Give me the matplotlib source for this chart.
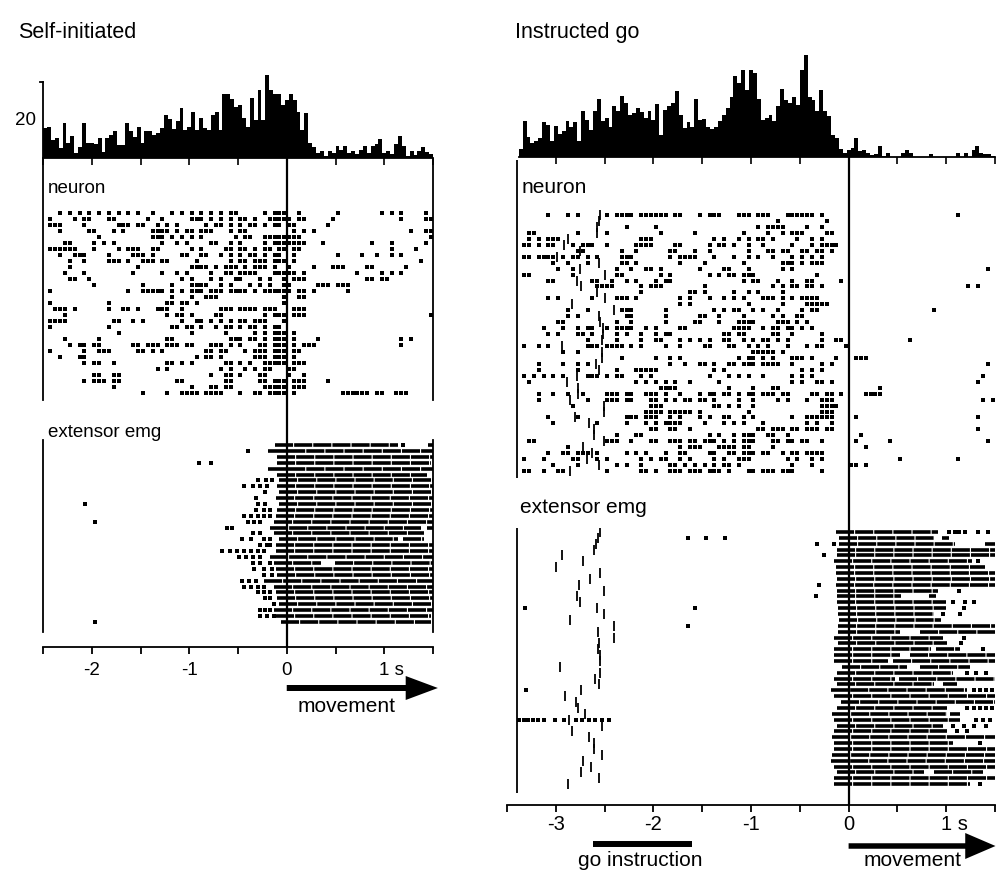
import numpy as np
import matplotlib
matplotlib.use("Agg")
import matplotlib.pyplot as plt
from matplotlib.patches import FancyArrow

plt.rcParams['font.family'] = ['Liberation Sans', 'DejaVu Sans']

W, H = 996, 872          # figure size in px
HBIN = 0.04              # histogram bin width (s)
RBIN = 0.05              # raster bin width (s)

# ---------------- peri-event histograms (spikes/s, 40 ms bins) ----------------
left_hist_start = -2.5
left_hist = [7.9, 8.2, 4.8, 5.3, 2.6, 9.2, 4.0, 5.8, 1.3, 3.0,
             9.2, 4.0, 4.0, 3.7, 5.3, 1.6, 5.3, 6.1, 7.1, 3.4,
             3.4, 9.2, 7.1, 5.5, 8.2, 4.0, 7.1, 7.1, 6.1, 6.6,
             7.9, 11.4, 10.3, 7.7, 9.8, 13.2, 7.4, 8.2, 12.1, 7.4,
             10.6, 7.9, 7.4, 11.4, 12.1, 7.4, 16.9, 16.9, 15.6, 13.5,
             14.0, 10.6, 8.2, 15.8, 10.0, 18.0, 10.0, 21.9, 18.0, 16.9,
             16.9, 14.0, 15.3, 16.9, 15.3, 12.1, 7.4, 11.9, 4.0, 2.9,
             1.3, 1.8, 0.5, 1.8, 1.3, 3.2, 2.1, 3.2, 1.3, 1.8,
             1.1, 2.1, 3.2, 1.3, 3.2, 3.7, 5.0, 1.3, 1.8, 1.1,
             3.7, 5.8, 3.2, 0.5, 1.8, 0.8, 1.8, 2.9, 1.6, 1.1]

right_hist_start = -3.38
right_hist = [2.1, 9.5, 5.3, 3.7, 4.2, 5.0, 9.2, 8.4, 4.2, 8.2,
              6.1, 6.9, 9.5, 7.9, 9.2, 4.2, 12.1, 9.8, 7.1, 12.1,
              15.3, 9.5, 10.3, 7.9, 13.5, 12.1, 16.1, 14.3, 11.1, 11.6,
              12.9, 11.9, 10.3, 12.1, 9.8, 14.0, 5.8, 12.4, 13.5, 14.3,
              17.4, 11.1, 7.7, 9.2, 7.9, 15.3, 9.8, 10.0, 7.9, 7.4,
              7.9, 9.5, 11.1, 12.9, 15.8, 21.4, 19.5, 23.0, 17.7, 23.0,
              22.2, 15.3, 9.8, 10.3, 11.1, 9.5, 13.5, 18.0, 15.0, 14.3,
              15.8, 13.7, 23.0, 26.9, 15.8, 15.0, 12.1, 17.7, 12.1, 10.8,
              5.8, 5.0, 2.1, 1.1, 1.8, 2.4, 5.0, 1.6, 1.8, 1.1,
              0.5, 0.8, 2.9, 0.3, 1.1, 0, 0, 0, 1.1, 1.8,
              1.1, 0, 0, 0, 0, 0.8, 0, 0, 0, 0,
              0, 0, 1.1, 0, 1.1, 0, 1.8, 2.9, 1.1, 0.8,
              0.8, 0.3]

# ---------------- neuron rasters: spike bins (50 ms) per trial ----------------
left_neuron_t0 = -2.5
left_neuron = [
    [3, 5, 7, 9, 11, 13, 15, 17, 19, 22, 26, 28, 30, 32, 34, 36, 38, 39, 45, 47, 48, 49, 52, 60, 69, 71, 73, 78],
    [1, 6, 8, 9, 13, 14, 21, 24, 30, 31, 32, 34, 36, 38, 40, 41, 43, 46, 47, 48, 49, 50, 52, 53, 59, 73, 78, 79],
    [1, 2, 3, 8, 15, 16, 17, 19, 20, 23, 25, 27, 33, 35, 36, 38, 40, 42, 43, 45, 47, 48, 50, 51, 58],
    [3, 9, 10, 14, 16, 22, 23, 24, 25, 27, 29, 30, 32, 33, 34, 38, 40, 41, 51, 53, 55, 75, 78, 79],
    [11, 22, 23, 24, 26, 28, 30, 32, 39, 41, 42, 45, 46, 47, 48, 49, 50, 51, 52, 79],
    [4, 5, 10, 12, 14, 24, 27, 29, 34, 35, 38, 40, 45, 47, 48, 49, 50, 51, 52, 53, 57, 67, 71, 78],
    [1, 2, 3, 4, 5, 6, 10, 15, 17, 18, 19, 22, 23, 30, 32, 37, 38, 40, 41, 43, 45, 46, 48, 49, 51, 52, 71, 76],
    [3, 6, 7, 8, 13, 18, 19, 20, 22, 28, 29, 32, 33, 36, 38, 40, 42, 43, 45, 47, 48, 51, 60, 65, 68, 71, 73],
    [5, 8, 13, 14, 15, 17, 20, 21, 22, 24, 25, 31, 38, 40, 41, 43, 44, 45, 47, 48, 49, 51, 77],
    [5, 19, 30, 31, 32, 33, 35, 37, 38, 39, 41, 43, 44, 45, 47, 50, 55, 59, 60, 61, 66, 67, 74],
    [4, 8, 18, 24, 27, 29, 34, 37, 38, 40, 41, 42, 43, 47, 48, 49, 50, 51, 53, 64, 69, 71, 73],
    [5, 6, 9, 28, 30, 34, 36, 39, 40, 44, 46, 49, 51, 52, 53, 66, 67, 69, 70],
    [10, 20, 26, 30, 31, 32, 33, 36, 38, 42, 44, 46, 49, 50, 56, 57, 58, 60, 61, 62],
    [1, 17, 20, 21, 22, 23, 24, 26, 28, 30, 31, 32, 34, 35, 36, 38, 39, 40, 41, 43, 45, 46, 47, 48, 49, 50, 52, 53, 55, 62],
    [26, 30, 33, 34, 35, 49, 52, 53],
    [1, 13, 25, 26, 28, 29, 31, 49],
    [2, 3, 4, 6, 13, 16, 17, 19, 23, 24, 25, 28, 36, 37, 38, 40, 41, 42, 43, 45, 46, 47, 51, 52, 53],
    [4, 25, 27, 28, 30, 35, 36, 45, 47, 48, 49, 51, 52, 53, 79],
    [1, 2, 3, 4, 14, 15, 18, 20, 28, 31, 32, 34, 36, 38, 40, 41, 43, 44, 45, 49],
    [1, 13, 26, 27, 29, 30, 32, 35, 37, 38, 40, 42, 43, 45, 47, 48],
    [15, 30, 37, 43, 45, 47, 48, 49, 51],
    [4, 11, 25, 26, 38, 39, 40, 42, 43, 45, 47, 48, 49, 51, 56, 73, 75],
    [5, 7, 8, 10, 11, 18, 19, 21, 22, 23, 25, 26, 27, 29, 30, 34, 35, 36, 38, 40, 44, 45, 47, 48, 49, 51, 53, 54, 55, 73],
    [1, 8, 11, 12, 13, 19, 20, 22, 24, 33, 34, 36, 37, 41, 43, 44, 45, 47, 48, 49, 51, 52],
    [3, 7, 8, 31, 33, 34, 36, 43, 44, 45, 47, 48, 49, 51],
    [8, 10, 11, 14, 25, 26, 28, 30, 37, 38, 40, 42, 45, 46, 47, 48, 49, 51, 52, 53],
    [23, 25, 36, 38, 41, 43, 45, 46, 50, 51],
    [10, 11, 14, 15, 34, 37, 38, 40, 44, 45, 50, 53],
    [8, 10, 11, 12, 14, 15, 27, 28, 37, 38, 44, 45, 47, 48, 49, 51, 52, 53, 58],
    [14, 30, 34, 35, 37, 38, 45, 46, 47, 48, 49, 51, 52, 53],
    [20, 25, 28, 29, 30, 31, 33, 34, 35, 36, 40, 43, 44, 46, 47, 48, 49, 51, 61, 62, 63, 64, 65, 66, 68, 69, 72, 73, 74],
]

right_neuron_t0 = -3.4
right_neuron = [
    [6, 10, 12, 18, 20, 21, 22, 23, 25, 26, 27, 28, 29, 30, 32, 33, 37, 39, 40, 41, 45, 46, 47, 49, 50, 51, 55, 56, 57, 58, 59, 60, 62, 90],
    [53, 63],
    [22, 28, 49, 51, 52, 53, 54, 59, 62],
    [2, 3, 12, 18, 29, 36, 46, 51, 54, 56, 57, 58, 63, 64],
    [2, 4, 6, 7, 8, 25, 26, 27, 40, 42, 45, 47, 49, 50, 52, 57, 60, 62],
    [1, 2, 4, 6, 7, 11, 13, 14, 15, 18, 24, 25, 26, 27, 32, 33, 39, 41, 42, 44, 47, 50, 56, 60, 62, 63, 64, 65],
    [12, 13, 21, 24, 31, 32, 36, 39, 47, 51, 52, 54, 55, 58, 59, 61, 62, 64],
    [1, 2, 4, 5, 6, 7, 9, 11, 12, 14, 16, 21, 22, 23, 31, 33, 34, 35, 36, 40, 44, 47, 49, 52, 56, 58, 60, 62],
    [7, 10, 14, 21, 22, 24, 33, 38, 46, 54, 55, 56, 58, 60, 61, 62],
    [8, 11, 20, 23, 26, 27, 29, 37, 42, 43, 47, 54, 56, 96],
    [1, 2, 11, 20, 21, 29, 31, 39, 41, 43, 44, 46, 47, 48, 61],
    [6, 7, 15, 16, 19, 22, 24, 28, 30, 31, 46, 48, 49, 53, 56, 59, 60, 66],
    [16, 17, 18, 19, 25, 27, 28, 29, 38, 52, 54, 56, 57, 59, 60, 62, 92, 94],
    [25, 35, 36, 38, 44, 47, 49, 54],
    [6, 8, 15, 20, 21, 22, 24, 33, 35, 39, 42, 44, 46, 50, 51, 52, 54, 56, 58, 59, 60, 61],
    [33, 35, 47, 54, 59, 60, 61, 62, 63],
    [10, 14, 21, 22, 23, 30, 40, 42, 44, 45, 48, 50, 53, 58, 60, 61, 85],
    [10, 12, 22, 23, 30, 37, 38, 41, 46, 52, 54, 57, 58],
    [8, 9, 20, 23, 30, 36, 37, 41, 45, 46, 47, 48, 53, 54, 55, 57, 59],
    [5, 9, 12, 14, 15, 18, 20, 21, 22, 23, 26, 28, 33, 34, 44, 45, 46, 47, 50, 52, 53, 55, 56, 58, 60],
    [6, 8, 12, 13, 15, 20, 22, 25, 28, 30, 31, 42, 43, 45, 46, 52, 53, 56, 62],
    [14, 20, 25, 28, 29, 33, 35, 37, 39, 42, 43, 46, 48, 50, 51, 53, 55, 62, 65, 66, 80],
    [1, 4, 6, 14, 15, 16, 18, 19, 20, 21, 23, 25, 30, 33, 38, 39, 43, 44, 47, 49, 51, 55, 59, 61, 62, 67],
    [9, 12, 48, 49, 50, 51, 52, 54],
    [21, 28, 31, 33, 45, 47, 48, 50, 52, 56, 57, 58, 60, 65, 69, 70, 71],
    [4, 9, 12, 14, 31, 34, 37, 38, 40, 43, 44, 46, 47, 48, 50, 51, 52, 53, 56, 62, 64, 96],
    [4, 12, 20, 24, 25, 26, 27, 28, 40, 42, 58, 60, 62],
    [1, 3, 5, 7, 9, 14, 15, 16, 18, 20, 21, 25, 27, 39, 43, 45, 47, 50, 56, 58, 60, 95],
    [2, 24, 26, 28, 30, 32, 35, 41, 56, 58, 61, 62, 64, 94],
    [29, 30, 31, 32, 43, 48, 52, 53, 74],
    [4, 7, 10, 13, 18, 19, 20, 22, 23, 26, 27, 28, 30, 33, 37, 39, 40, 42, 43, 45, 47, 48, 50, 51, 52, 54, 55, 60, 61, 63, 64, 66, 71, 72, 73, 74],
    [4, 14, 18, 19, 20, 22, 23, 27, 28, 30, 32, 34, 35, 37, 38, 40, 45, 48, 53, 55, 59, 62, 63, 64, 95, 97],
    [11, 27, 28, 29, 40, 41, 43, 45, 48, 62, 63, 64, 65],
    [26, 27, 28, 29, 31, 32, 33, 34, 35, 37, 47, 62, 63, 64],
    [6, 12, 22, 23, 24, 26, 27, 28, 31, 33, 37, 39, 42, 43, 46, 48, 56, 59, 60, 61, 62, 63, 64, 69, 94],
    [7, 16, 22, 26, 28, 30, 31, 32, 33, 38, 42, 44, 46, 50, 59, 61, 64],
    [27, 28, 31, 32, 35, 49, 50, 52, 53, 54, 56, 57, 59, 60, 61, 63, 64, 94],
    [20, 24, 25, 39, 41, 44, 46, 47, 48, 51, 52, 55, 70],
    [2, 3, 18, 19, 20, 23, 27, 28, 31, 32, 33, 35, 36, 38, 39, 40, 42, 44, 46, 47, 48, 52, 53, 55, 56, 58, 59, 62, 69, 76, 96],
    [10, 33, 35, 36, 37, 41, 42, 43, 44, 46, 47, 52, 71],
    [6, 9, 10, 12, 13, 14, 16, 22, 24, 26, 30, 33, 34, 39, 40, 43, 44, 46, 47, 48, 50, 51, 54, 56, 57, 59, 60, 61, 62],
    [1, 5, 11, 12, 16, 18, 25, 27, 29, 30, 33, 35, 40, 42, 45, 46, 47, 55, 57, 60, 62, 78, 90],
    [7, 12, 20, 22, 25, 31, 32, 34, 36, 38, 40, 42, 43, 45, 56, 60, 68, 69, 71],
    [1, 2, 5, 8, 9, 18, 25, 26, 28, 31, 32, 33, 35, 36, 37, 39, 40, 41, 43, 47, 48, 50, 51, 52, 54, 55, 56, 62],
]

# go-instruction time (s) of each instructed trial
right_neuron_go = [-2.55, -2.56, -2.58, -2.58, -2.87, -2.92, -2.75, -2.99, -2.56, -2.75,
                   -2.50, -2.78, -2.74, -2.58, -2.50, -2.83, -2.40, -2.56, -2.55, -2.52,
                   -2.52, -2.53, -2.94, -2.53, -2.53, -2.59, -2.56, -2.78, -2.89, -2.77,
                   -2.77, -2.85, -2.51, -2.51, -2.80, -2.66, -2.61, -2.61, -2.51, -2.72,
                   -2.63, -2.68, -2.56, -2.85]
right_emg_go = [-2.55, -2.57, -2.59, -2.61, -2.94, -2.72, -3.00, -2.55, -2.65, -2.76,
                -2.51, -2.78, -2.75, -2.58, -2.51, -2.85, -2.40, -2.57, -2.40, -2.56,
                -2.57, -2.55, -2.55, -2.96, -2.55, -2.60, -2.56, -2.74, -2.91, -2.79,
                -2.77, -2.70, -2.86, -2.53, -2.83, -2.66, -2.61, -2.61, -2.53, -2.72,
                -2.64, -2.74, -2.56, -2.87]

# ---------------- EMG rasters: burst segments (s) and isolated spikes (s) ----------------
left_emg_bursts = [
    [(-0.12, 1.14), (1.45, 1.5)], [(-0.19, 1.5)], [(-0.10, 1.5)], [(-0.10, 1.48)], [(-0.19, 1.5)],
    [(-0.10, 1.44)], [(-0.08, 1.5)], [(-0.10, 1.5)], [(-0.08, 1.5)], [(-0.11, 1.5)],
    [(-0.08, 1.5)], [(-0.10, 1.5)], [(-0.11, 1.5)], [(-0.13, 1.5)], [(-0.17, 1.38), (1.44, 1.5)],
    [(-0.13, 1.41)], [(-0.08, 1.14), (1.19, 1.41)], [(-0.11, 1.5)], [(-0.11, 1.5)], [(-0.17, 1.5)],
    [(-0.13, 0.35), (0.49, 1.5)], [(-0.11, 1.5)], [(-0.10, 1.5)], [(-0.23, 1.5)], [(-0.13, 1.5)],
    [(-0.11, 1.5)], [(-0.10, 1.5)], [(-0.08, 1.5)], [(-0.13, 1.5)], [(-0.11, 1.48)],
    [(-0.06, 1.48)],
]
left_emg_dots = [
    [1.19], [-0.40], [], [-0.90, -0.78], [],
    [], [-0.30, -0.21, -0.15], [-0.44, -0.35, -0.27, -0.20], [-0.22], [-0.32],
    [-2.07, -0.30, -0.22], [-0.32, -0.23, -0.17], [-0.44, -0.37, -0.30, -0.23, -0.17], [-1.97, -0.40, -0.34, -0.27], [-0.61, -0.56],
    [-0.35, -0.27], [-0.46, -0.37, -0.23, -0.17], [-0.27, -0.20, -0.17], [-0.66, -0.58, -0.51, -0.44, -0.37, -0.30, -0.23], [-0.49, -0.42, -0.35, -0.27],
    [-0.35, -0.27, -0.17], [-0.34, -0.23, -0.15], [-0.23, -0.15], [-0.46, -0.39, -0.32], [-0.44, -0.37, -0.30, -0.23],
    [-0.30, -0.23, -0.17], [-0.22, -0.17], [-0.13], [-0.27, -0.22, -0.17], [-0.27, -0.20, -0.13],
    [-1.97],
]

right_emg_bursts = [
    [(-0.13, 0.92)], [(-0.10, 0.88), (0.96, 1.03)], [(-0.10, 1.09), (1.40, 1.5)], [(-0.12, 1.5)], [(-0.12, 1.5)],
    [(-0.15, 1.26)], [(-0.13, 1.40)], [(-0.13, 1.5)], [(-0.12, 1.5)], [(-0.13, 1.5)],
    [(-0.12, 0.92)], [(-0.12, 0.54), (0.82, 0.90)], [(-0.12, 1.0)], [(-0.11, 1.0)], [(-0.11, 0.87)],
    [(-0.10, 0.95)], [(-0.11, 1.5)], [(-0.11, 0.53), (0.73, 1.5)], [(-0.15, 0.97)], [(-0.11, 1.01)],
    [(-0.15, 0.84), (0.90, 1.14)], [(-0.15, 0.53), (0.63, 1.5)], [(-0.15, 0.40), (0.46, 1.5)], [(-0.07, 0.60), (0.73, 1.24)], [(-0.12, 1.07)],
    [(-0.15, 0.48), (0.52, 1.5)], [(-0.12, 0.87), (0.97, 1.11)], [(-0.18, 1.21)], [(-0.15, 1.5)], [(-0.08, 1.5)],
    [(-0.12, 1.01)], [(-0.17, 1.01), (1.04, 1.14)], [(-0.15, 1.14)], [(-0.12, 0.97)], [(-0.15, 1.01)],
    [(-0.17, 1.5)], [(-0.15, 1.07)], [(-0.15, 1.5)], [(-0.17, 1.5)], [(-0.18, 1.5)],
    [(-0.15, 1.5)], [(-0.12, 0.77), (0.87, 1.38)], [(-0.15, 1.5)], [(-0.15, 1.24)],
]
right_emg_dots = [
    [1.03, 1.09, 1.13, 1.19, 1.33, 1.43], [-1.65, -1.46, -1.27], [-0.32, -0.15], [], [-0.25],
    [1.33], [], [], [], [-0.30],
    [1.13], [-0.33], [1.07, 1.19, 1.28], [-3.32, -1.57, 1.18], [0.97, 1.14],
    [], [-1.65], [], [1.18], [1.15],
    [1.38], [], [], [], [1.21, 1.31, 1.41],
    [], [], [-3.31, 1.28, 1.35, 1.41, 1.47], [], [],
    [1.21, 1.28, 1.35, 1.41, 1.47], [],
    [-3.38, -3.33, -3.28, -3.23, -3.18, -3.12, -3.01, -2.92, -2.79, -2.73, -2.66, -2.60, -2.53, -2.45, 1.31, 1.38, 1.45],
    [1.07, 1.18, 1.28, 1.41], [1.11, 1.21],
    [], [1.35], [], [], [],
    [], [], [], [1.35],
]


def px_axes(fig, x0, y0, x1, y1):
    """Axes placed by a pixel box (origin top-left)."""
    return fig.add_axes([x0 / W, 1 - y1 / H, (x1 - x0) / W, (y1 - y0) / H])


def bare(ax):
    for s in ax.spines.values():
        s.set_visible(False)
    ax.set_xticks([])
    ax.set_yticks([])
    ax.patch.set_alpha(0)


def draw_hist(ax, start, values, xlim, ymax, ticks):
    edges = start + HBIN * np.arange(len(values) + 1)
    ax.stairs(values, edges, fill=True, color='black', lw=0)
    ax.set_xlim(*xlim)
    ax.set_ylim(0, ymax)
    bare(ax)
    ax.spines['bottom'].set_visible(True)
    ax.spines['bottom'].set_linewidth(1.3)
    ax.spines['bottom'].set_bounds(start, xlim[1])
    ax.set_xticks(ticks)
    ax.tick_params(axis='x', direction='out', length=5, width=1.2, labelbottom=False)


def draw_neuron(ax, trials, t0, xlim, nrows_above, nrows_total):
    xs, ys = [], []
    for r, bins in enumerate(trials):
        for c in sorted(set(bins)):
            xs.append(t0 + (c + 0.5) * RBIN)
            ys.append(r)
    ax.plot(xs, ys, 's', color='black', ms=2.2, mew=0)
    ax.set_xlim(*xlim)
    ax.set_ylim(nrows_total - nrows_above, -nrows_above)
    bare(ax)


def draw_emg(ax, bursts, dots, xlim, top, bottom):
    for r, segs in enumerate(bursts):
        for s, e in segs:
            ax.hlines(r, s, e, colors='black', lw=2.6, linestyles=[(0, (5, 0.3))])
    xs = [t for r, d in enumerate(dots) for t in d]
    ys = [r for r, d in enumerate(dots) for t in d]
    ax.plot(xs, ys, 's', color='black', ms=2.2, mew=0)
    ax.set_xlim(*xlim)
    ax.set_ylim(bottom, top)
    bare(ax)


def frame(ax, xlim, ticks, height):
    ax.set_xlim(*xlim)
    ax.set_ylim(0, height)
    bare(ax)
    ax.spines['bottom'].set_visible(True)
    ax.spines['bottom'].set_linewidth(1.3)
    ax.set_xticks(ticks)
    ax.tick_params(axis='x', direction='out', length=5, width=1.3, labelbottom=False)
    ax.axvline(0, color='black', lw=1.6)


fig = plt.figure(figsize=(W / 100, H / 100), dpi=100)

# ======================= Self-initiated =======================
L_XLIM = (-2.5, 1.5)
fr = px_axes(fig, 43, 158, 433, 647)
frame(fr, L_XLIM, np.arange(-2.5, 1.51, 0.5), 489)
for v in [-2, -1, 0]:
    fr.text(v, -28, str(v), ha='center', va='baseline', fontsize=13.5)
fr.text(0.95, -28, '1 s', ha='left', va='baseline', fontsize=13.5)
fr.add_patch(FancyArrow(0, -41, 1.55, 0, width=6, head_width=24, head_length=0.33,
                        length_includes_head=True, color='black', lw=0, clip_on=False))
fr.text(0.61, -65, 'movement', ha='center', va='baseline', fontsize=15)

hl = px_axes(fig, 43, 158 - 25 * 3.78, 433, 158)
draw_hist(hl, left_hist_start, left_hist, L_XLIM, 25, np.arange(-2.5, 1.51, 0.5))
hl.plot([-2.5, -2.5], [0, 20], color='black', lw=1.3, clip_on=False)
hl.plot([-2.535, -2.5], [20, 20], color='black', lw=1.3, clip_on=False)
hl.text(-2.57, 10.3 - 1.6, '20', ha='right', va='baseline', fontsize=13.5)

nl = px_axes(fig, 43, 160, 433, 400)
draw_neuron(nl, left_neuron, left_neuron_t0, L_XLIM, 8.83, 40)
for x in L_XLIM:
    nl.axvline(x, color='black', lw=1.3, clip_on=False)

el = px_axes(fig, 43, 440, 433, 632)
draw_emg(el, left_emg_bursts, left_emg_dots, L_XLIM, -0.85, 31.7)
for x in L_XLIM:
    el.axvline(x, color='black', lw=1.3, clip_on=False)

fig.text(18 / W, 1 - 38 / H, 'Self-initiated', fontsize=15.5, va='baseline')
fig.text(48 / W, 1 - 193 / H, 'neuron', fontsize=13.5, va='baseline')
fig.text(48 / W, 1 - 437 / H, 'extensor emg', fontsize=13.5, va='baseline')

# ======================= Instructed go =======================
R_XLIM = (-3.5, 1.5)
fr2 = px_axes(fig, 507, 157, 995, 805)
frame(fr2, R_XLIM, np.arange(-3.5, 1.51, 0.5), 648)
for v in [-3, -2, -1, 0]:
    fr2.text(v, -25, str(v), ha='center', va='baseline', fontsize=14.5)
fr2.text(0.95, -25, '1 s', ha='left', va='baseline', fontsize=14.5)
fr2.add_patch(FancyArrow(0, -41, 1.505, 0, width=5.5, head_width=26, head_length=0.31,
                         length_includes_head=True, color='black', lw=0, clip_on=False))
fr2.plot([-2.62, -1.60], [-39, -39], color='black', lw=4.3, solid_capstyle='butt', clip_on=False)
fr2.text(0.66, -61, 'movement', ha='center', va='baseline', fontsize=15)
fr2.text(-2.13, -61, 'go instruction', ha='center', va='baseline', fontsize=15)

hr = px_axes(fig, 507, 157 - 28 * 3.78, 995, 157)
draw_hist(hr, right_hist_start, right_hist, R_XLIM, 28, np.arange(-3.0, 1.51, 0.5))

nr = px_axes(fig, 507, 160, 995, 478)
draw_neuron(nr, right_neuron, right_neuron_t0, R_XLIM, 9.24, 53.4)
nr.plot(right_neuron_go, range(len(right_neuron_go)), '|', color='black', ms=6.5, mew=1.3)
nr.axvline(-3.4, color='black', lw=1.3)

er = px_axes(fig, 507, 528, 995, 793)
draw_emg(er, right_emg_bursts, right_emg_dots, R_XLIM, -0.67, 44.5)
er.plot(right_emg_go, range(len(right_emg_go)), '|', color='black', ms=6.5, mew=1.3)
er.axvline(-3.4, color='black', lw=1.3)

fig.text(515 / W, 1 - 38 / H, 'Instructed go', fontsize=15.5, va='baseline')
fig.text(522 / W, 1 - 193 / H, 'neuron', fontsize=15, va='baseline')
fig.text(520 / W, 1 - 513 / H, 'extensor emg', fontsize=15, va='baseline')

fig.savefig('out.png', dpi=100)
